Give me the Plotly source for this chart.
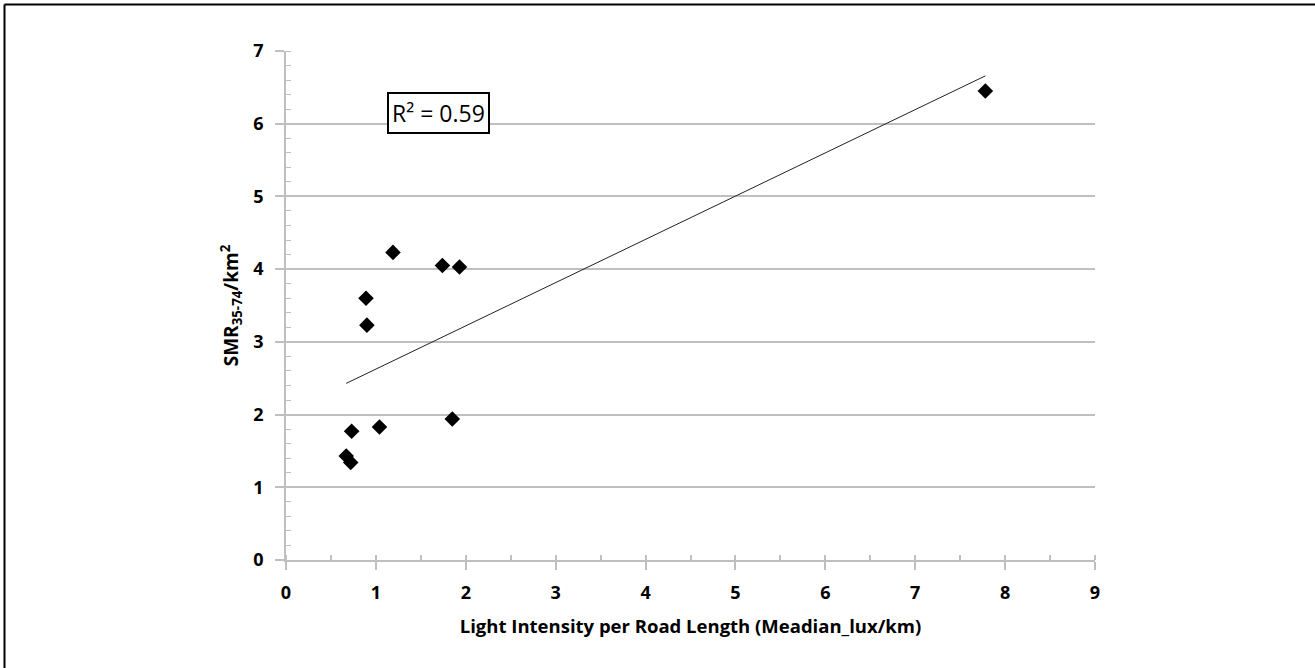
import numpy as np
import plotly.graph_objects as go

# Data
light_intensity = [0.67, 0.72, 0.73, 0.89, 0.90, 1.04, 1.19, 1.74, 1.85, 1.93, 7.78]
smr = [1.43, 1.34, 1.77, 3.60, 3.23, 1.83, 4.23, 4.05, 1.94, 4.03, 6.45]
r2_label = "R² = 0.59"
x_ticks = [0, 1, 2, 3, 4, 5, 6, 7, 8, 9]
y_ticks = [0, 1, 2, 3, 4, 5, 6, 7]

x_arr = np.array(light_intensity)
y_arr = np.array(smr)
slope, intercept = np.polyfit(x_arr, y_arr, 1)
trend_x = [x_arr.min(), x_arr.max()]
trend_y = [intercept + slope * v for v in trend_x]

FONT = "Open Sans"
GRID = "#bfbfbf"

fig = go.Figure()
fig.add_trace(go.Scatter(
    x=trend_x, y=trend_y, mode="lines",
    line=dict(color="#222222", width=1), showlegend=False, hoverinfo="skip"))
fig.add_trace(go.Scatter(
    x=light_intensity, y=smr, mode="markers",
    marker=dict(symbol="diamond", size=12, color="black"),
    showlegend=False))

fig.update_xaxes(
    range=[0, 9], tickvals=x_ticks, showgrid=False,
    showline=True, linecolor=GRID, linewidth=1.5,
    ticks="outside", ticklen=8, tickwidth=1.5, tickcolor=GRID,
    ticklabelstandoff=8,
    minor=dict(dtick=0.5, ticks="inside", ticklen=5, tickwidth=1.5, tickcolor=GRID, showgrid=False),
    tickfont=dict(family=FONT, size=18, color="black", weight="bold"),
    title=dict(text="Light Intensity per Road Length (Meadian_lux/km)",
               font=dict(family=FONT, size=18.5, color="black", weight="bold"), standoff=17),
    zeroline=False, fixedrange=True)
fig.update_yaxes(
    range=[0, 7], tickvals=y_ticks, showgrid=True, gridcolor=GRID, gridwidth=1.5,
    showline=True, linecolor=GRID, linewidth=1.5,
    ticks="outside", ticklen=9, tickwidth=1.5, tickcolor=GRID,
    ticklabelstandoff=8,
    minor=dict(dtick=0.2, ticks="inside", ticklen=5, tickwidth=1, tickcolor=GRID, showgrid=False),
    tickfont=dict(family=FONT, size=18, color="black", weight="bold"),
    title=dict(text="SMR<sub>35-74</sub>/km<sup>2</sup>",
               font=dict(family=FONT, size=19, color="black", weight="bold"), standoff=10),
    zeroline=False, fixedrange=True)

fig.add_annotation(
    x=1.70, y=6.15, xref="x", yref="y", text=r2_label, showarrow=False,
    font=dict(family=FONT, size=23, color="black"),
    bordercolor="black", borderwidth=2, borderpad=3, bgcolor="white")

# Outer frame (top and left edges, as in the reference)
L, R, T, B = 286, 220, 51, 108
W, H = 1315, 668
pw, ph = W - L - R, H - T - B
def px(xp):
    return (xp - L) / pw
def py(yp):
    return (H - B - yp) / ph
fig.add_shape(type="line", xref="paper", yref="paper",
              x0=px(4.5), x1=px(1315), y0=py(4.5), y1=py(4.5),
              line=dict(color="black", width=2))
fig.add_shape(type="line", xref="paper", yref="paper",
              x0=px(4.5), x1=px(4.5), y0=py(4.5), y1=py(668),
              line=dict(color="black", width=2))

fig.update_layout(
    width=W, height=H, margin=dict(l=L, r=R, t=T, b=B),
    paper_bgcolor="white", plot_bgcolor="white",
    font=dict(family=FONT, color="black"))

fig.write_html("out.html", config={"displayModeBar": False})
